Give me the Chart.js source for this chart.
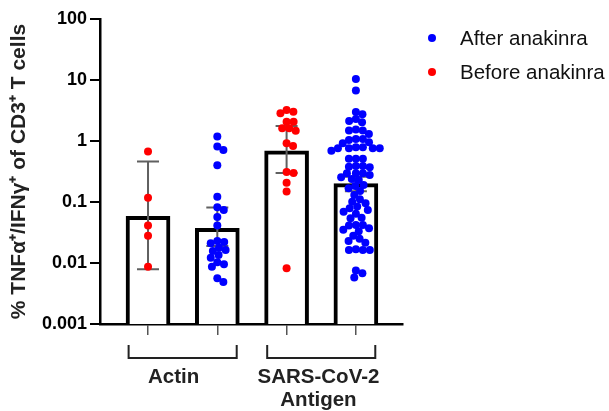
<!DOCTYPE html>
<html>
<head>
<meta charset="utf-8">
<script src="https://cdn.jsdelivr.net/npm/chart.js@4.4.1/dist/chart.umd.min.js"></script>
<style>
  html, body { margin: 0; padding: 0; background: #fff; }
</style>
</head>
<body>
<canvas id="chart" width="609" height="411"></canvas>
<script>
// Catégories (positions sur l'axe x) et groupes
const groupLabels = [['Actin'], ['SARS-CoV-2', 'Antigen']]
const seriesNames = ['After anakinra', 'Before anakinra']

// Valeurs individuelles
const actinBefore = [0.67, 0.117, 0.041, 0.028, 0.0087]
const actinAfter = [1.18, 0.81, 0.71, 0.40, 0.122, 0.082, 0.074, 0.057, 0.041, 0.021, 0.023,
  0.022, 0.0157, 0.0163, 0.0178, 0.0135, 0.0122, 0.0095, 0.0087, 0.0103, 0.0049, 0.0056]
const sarsBefore = [3.22, 3.02, 2.84, 2.07, 2.07, 1.62, 1.47, 1.62, 0.92, 0.83, 0.31, 0.30,
  0.207, 0.148, 0.0082]
const sarsAfter = [10.4, 6.7, 3.0, 2.74, 2.29, 2.02, 2.13, 1.48, 1.55, 1.48, 1.30, 1.08, 1.08,
  1.04, 0.95, 0.92, 0.79, 0.76, 0.79, 0.69, 0.76, 0.76, 0.76, 0.51, 0.51, 0.51, 0.39, 0.37,
  0.295, 0.295, 0.295, 0.39, 0.38, 0.277, 0.254, 0.238, 0.23, 0.19, 0.183, 0.151, 0.168, 0.130,
  0.111, 0.095, 0.101, 0.084, 0.079, 0.074, 0.069, 0.064, 0.054, 0.055, 0.042, 0.042, 0.041,
  0.037, 0.035, 0.033, 0.028, 0.025, 0.023, 0.0215, 0.0163, 0.0168, 0.0163, 0.0163, 0.0075,
  0.0068, 0.0058]

// Barres (moyenne) et barres d'erreur, dans l'ordre des catégories 1..4
const barValues = [0.058, 0.037, 0.69, 0.20]
const errHigh = [0.46, 0.081, 1.76, 0.26]
const errLow = [0.0079, 0.019, 0.30, 0.15]
const yTicks = [0.001, 0.01, 0.1, 1, 10, 100]

const Y_MIN = 0.001
const FONT = "'Liberation Sans', Arial, sans-serif"

// points sans dispersion au départ, le beeswarm est calculé après
const toPoints = (vals, cat) => vals.map(v => ({ x: cat, y: v }))

// Barres d'erreur + crochets + légende
const extras = {
  id: 'extras',
  afterDatasetDraw(chart, args) {
    if (args.index !== 0) return
    const ctx = chart.ctx, x = chart.scales.x, y = chart.scales.y
    ctx.save()
    ctx.strokeStyle = '#606060'
    ctx.lineWidth = 2
    for (let i = 0; i < barValues.length; i++) {
      const px = x.getPixelForValue(i + 1)
      const top = y.getPixelForValue(errHigh[i])
      const bot = y.getPixelForValue(errLow[i])
      ctx.beginPath()
      ctx.moveTo(px, top); ctx.lineTo(px, bot)
      ctx.moveTo(px - 11, top); ctx.lineTo(px + 11, top)
      ctx.moveTo(px - 11, bot); ctx.lineTo(px + 11, bot)
      ctx.stroke()
    }
    ctx.restore()
  },
  afterDraw(chart) {
    const ctx = chart.ctx, x = chart.scales.x, area = chart.chartArea
    ctx.save()
    // crochets sous l'axe
    ctx.strokeStyle = '#222'
    ctx.lineWidth = 2
    const brackets = [[0.72, 2.28], [2.72, 4.28]]
    const labelCenters = [1.37, 3.46]
    const y1 = area.bottom + 21, y2 = area.bottom + 34
    brackets.forEach((b, k) => {
      const a = x.getPixelForValue(b[0]), c = x.getPixelForValue(b[1])
      ctx.beginPath()
      ctx.moveTo(a, y1); ctx.lineTo(a, y2); ctx.lineTo(c, y2); ctx.lineTo(c, y1)
      ctx.stroke()
      ctx.fillStyle = '#222'
      ctx.font = 'bold 20.5px ' + FONT
      ctx.textAlign = 'center'
      ctx.textBaseline = 'middle'
      groupLabels[k].forEach((t, j) => {
        ctx.fillText(t, x.getPixelForValue(labelCenters[k]), area.bottom + 53 + j * 23)
      })
    })
    // légende
    const leg = [chart.data.datasets[1], chart.data.datasets[2]]
    ctx.font = '20.5px ' + FONT
    ctx.textAlign = 'left'
    leg.forEach((ds, k) => {
      const ly = 38 + k * 34
      ctx.fillStyle = ds.backgroundColor
      ctx.beginPath()
      ctx.arc(area.right + 29, ly, 4, 0, Math.PI * 2)
      ctx.fill()
      ctx.fillStyle = '#111'
      ctx.fillText(ds.label, area.right + 57, ly + 1)
    })
    ctx.restore()
  }
}

const config = {
  type: 'bar',
  data: {
    datasets: [
      {
        type: 'bar',
        data: barValues.map((v, i) => ({ x: i + 1, y: [Y_MIN, v] })),
        backgroundColor: '#fff',
        borderColor: '#000',
        borderWidth: 4,
        borderSkipped: 'start',
        barThickness: 44,
        order: 3
      },
      {
        type: 'scatter',
        label: seriesNames[0],
        data: [...toPoints(actinAfter, 2), ...toPoints(sarsAfter, 4)],
        backgroundColor: '#0000ff',
        borderWidth: 0,
        pointRadius: 4,
        order: 1
      },
      {
        type: 'scatter',
        label: seriesNames[1],
        data: [...toPoints(actinBefore, 1), ...toPoints(sarsBefore, 3)],
        backgroundColor: '#ff0000',
        borderWidth: 0,
        pointRadius: 4,
        order: 1
      }
    ]
  },
  options: {
    responsive: false,
    animation: false,
    layout: { padding: { top: 19, right: 206, bottom: 0, left: 0 } },
    plugins: { legend: { display: false }, tooltip: { enabled: false } },
    scales: {
      x: {
        type: 'linear',
        offset: false,
        min: 0.307,
        max: 4.68,
        afterBuildTicks: s => { s.ticks = [1, 2, 3, 4].map(v => ({ value: v })) },
        afterFit: s => { s.height = 87 },
        ticks: { display: false },
        grid: { offset: false, drawOnChartArea: false, drawTicks: true, tickLength: 11, color: '#555', lineWidth: 1.5 },
        border: { color: '#000', width: 2.5 }
      },
      y: {
        type: 'logarithmic',
        min: Y_MIN,
        max: 100,
        afterBuildTicks: s => { s.ticks = yTicks.map(v => ({ value: v })) },
        afterFit: s => { s.width = 100 },
        ticks: {
          callback: v => String(v),
          color: '#000',
          padding: 3,
          font: { family: FONT, size: 18, weight: 'bold' }
        },
        grid: { drawOnChartArea: false, drawTicks: true, tickLength: 10, color: '#000', lineWidth: 2 },
        border: { color: '#000', width: 2.5 },
        title: {
          display: true,
          text: '% TNFα⁺/IFNγ⁺ of CD3⁺ T cells',
          color: '#222',
          padding: { top: 7, bottom: 0 },
          font: { family: FONT, size: 21, weight: 'bold' }
        }
      }
    }
  },
  plugins: [extras]
}

const chart = new Chart(document.getElementById('chart'), config)

// Beeswarm : dispersion horizontale calculée à partir des valeurs
function swarm(values, yScale, d) {
  const placed = []
  const out = new Array(values.length)
  const order = values.map((v, i) => i).sort((a, b) => values[b] - values[a])
  for (const i of order) {
    const py = yScale.getPixelForValue(values[i])
    const near = placed.filter(p => Math.abs(p.y - py) < d)
    const cands = [0]
    near.forEach(p => {
      const dx = Math.sqrt(d * d - (p.y - py) ** 2)
      cands.push(p.x + dx, p.x - dx)
    })
    cands.sort((a, b) => Math.abs(a) - Math.abs(b))
    const px = cands.find(c => near.every(p => (p.x - c) ** 2 + (p.y - py) ** 2 >= d * d - 0.01))
    placed.push({ x: px, y: py })
    out[i] = px
  }
  return out
}

const xs = chart.scales.x
const pxPerUnit = xs.width / (xs.max - xs.min)
const jitter = (vals, cat) => {
  const dx = swarm(vals, chart.scales.y, 7)
  return vals.map((v, i) => ({ x: cat + dx[i] / pxPerUnit, y: v }))
}
chart.data.datasets[1].data = [...jitter(actinAfter, 2), ...jitter(sarsAfter, 4)]
chart.data.datasets[2].data = [...jitter(actinBefore, 1), ...jitter(sarsBefore, 3)]
chart.update('none')
</script>
</body>
</html>
